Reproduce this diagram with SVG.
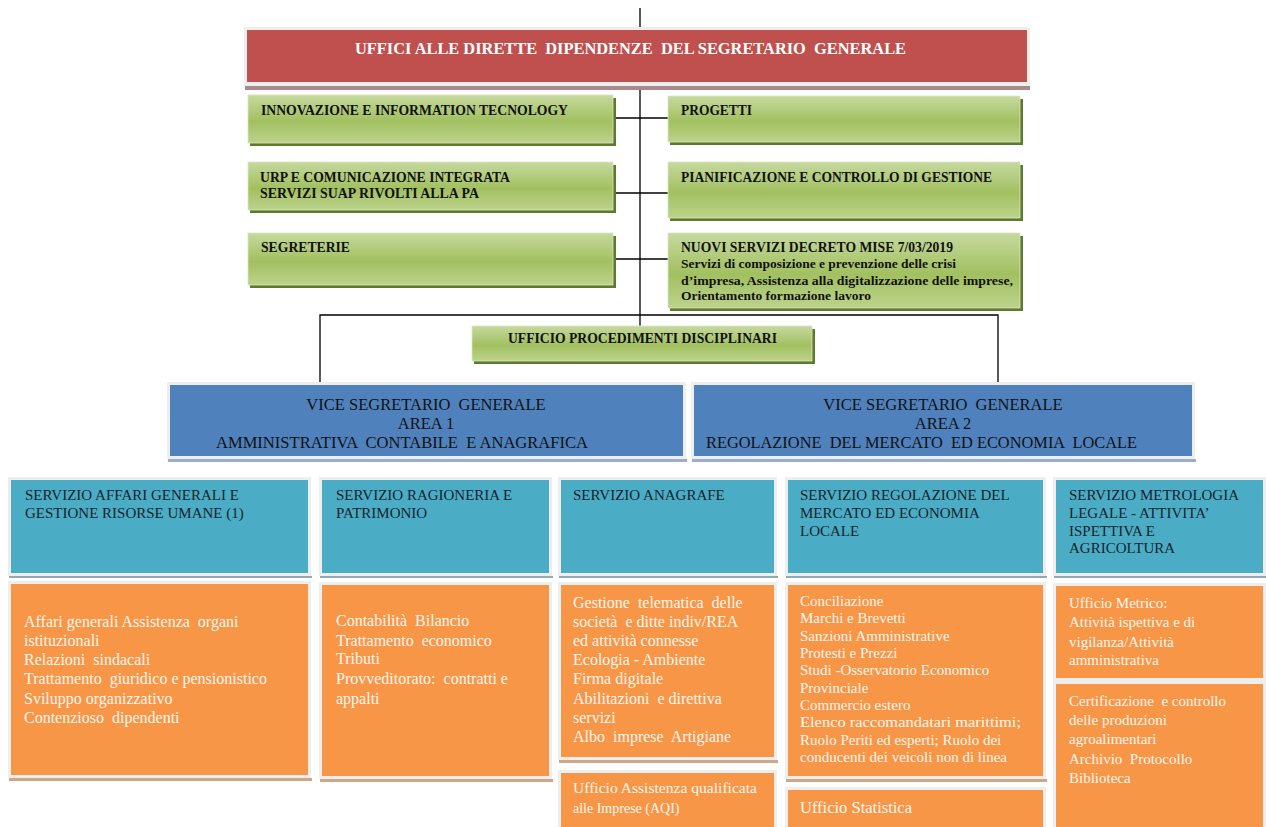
<svg xmlns="http://www.w3.org/2000/svg" width="1266" height="827" viewBox="0 0 1266 827">
<defs>
<linearGradient id="gGreen" x1="0" y1="0" x2="0" y2="1">
<stop offset="0" stop-color="#c6d99e"/>
<stop offset="0.55" stop-color="#a2c060"/>
<stop offset="1" stop-color="#bcd38c"/>
</linearGradient>
<style>
text{white-space:pre}
.conn{stroke:#000;stroke-width:1.3;fill:none}
.frame{fill:#eeeeee}
.green{fill:url(#gGreen);stroke:#d9e6bf;stroke-width:0.8}
.gsh{fill:#5e7a2e}
.tg{font-family:"Liberation Serif","Times New Roman",serif;font-weight:bold;font-size:14px;fill:#111}
.tg2{font-family:"Liberation Serif","Times New Roman",serif;font-weight:bold;font-size:13px;fill:#111}
.tr{font-family:"Liberation Serif","Times New Roman",serif;font-weight:bold;font-size:17.5px;fill:#fff}
.tb{font-family:"Liberation Serif","Times New Roman",serif;font-size:16.5px;fill:#111;text-anchor:middle}
.tt{font-family:"Liberation Serif","Times New Roman",serif;font-size:15px;fill:#16242b}
.to{font-family:"Liberation Serif","Times New Roman",serif;font-size:16px;fill:#fff5ee}
.to2{font-family:"Liberation Serif","Times New Roman",serif;font-size:15px;fill:#fff5ee}
.red{fill:#c0504d}
.blue{fill:#4f81bd}
.teal{fill:#4bacc6}
.orange{fill:#f79646}
.bsh{fill:#9aaecb}
.tsh{fill:#8fa9b5}
.osh{fill:#d0a68a}
</style>
</defs>
<g id="connectors">
<line class="conn" x1="640" y1="8" x2="640" y2="326"/>
<line class="conn" x1="613" y1="118" x2="668" y2="118"/>
<line class="conn" x1="613" y1="193" x2="668" y2="193"/>
<line class="conn" x1="613" y1="259" x2="668" y2="259"/>
<polyline class="conn" points="320,384 320,315 998,315 998,383"/>
</g>
<g id="segretario-generale">
<rect class="frame" x="244" y="27" width="786" height="59"/>
<rect x="245" y="86" width="785" height="4" fill="#a88a8a"/>
<rect class="red" x="247" y="30" width="780" height="52"/>
<text class="tr" x="355" y="54" textLength="551" lengthAdjust="spacingAndGlyphs">UFFICI ALLE DIRETTE  DIPENDENZE  DEL SEGRETARIO  GENERALE</text>
</g>
<g id="innovazione">
<rect class="gsh" x="250" y="98" width="366" height="48"/>
<rect class="green" x="248" y="95" width="365" height="48"/>
<text class="tg" x="261" y="115" textLength="307" lengthAdjust="spacingAndGlyphs">INNOVAZIONE E INFORMATION TECNOLOGY</text>
</g>
<g id="urp">
<rect class="gsh" x="250" y="165" width="366" height="48"/>
<rect class="green" x="248" y="162" width="365" height="48"/>
<text class="tg" x="260" y="182" textLength="250" lengthAdjust="spacingAndGlyphs">URP E COMUNICAZIONE INTEGRATA</text>
<text class="tg" x="260" y="198" textLength="219" lengthAdjust="spacingAndGlyphs">SERVIZI SUAP RIVOLTI ALLA PA</text>
</g>
<g id="segreterie">
<rect class="gsh" x="250" y="236" width="366" height="52"/>
<rect class="green" x="248" y="233" width="365" height="52"/>
<text class="tg" x="261" y="252" textLength="89" lengthAdjust="spacingAndGlyphs">SEGRETERIE</text>
</g>
<g id="progetti">
<rect class="gsh" x="670" y="99" width="353" height="46"/>
<rect class="green" x="668" y="96" width="352" height="46"/>
<text class="tg" x="681" y="115" textLength="71" lengthAdjust="spacingAndGlyphs">PROGETTI</text>
</g>
<g id="pianificazione">
<rect class="gsh" x="670" y="165" width="353" height="56"/>
<rect class="green" x="668" y="162" width="352" height="56"/>
<text class="tg" x="681" y="182" textLength="311" lengthAdjust="spacingAndGlyphs">PIANIFICAZIONE E CONTROLLO DI GESTIONE</text>
</g>
<g id="nuovi-servizi">
<rect class="gsh" x="670" y="236" width="353" height="75"/>
<rect class="green" x="668" y="233" width="352" height="75"/>
<text class="tg" x="681" y="252" textLength="272" lengthAdjust="spacingAndGlyphs">NUOVI SERVIZI DECRETO MISE 7/03/2019</text>
<text class="tg2" x="681" y="268" textLength="275" lengthAdjust="spacingAndGlyphs">Servizi di composizione e prevenzione delle crisi</text>
<text class="tg2" x="681" y="285" textLength="332" lengthAdjust="spacingAndGlyphs">d’impresa, Assistenza alla digitalizzazione delle imprese,</text>
<text class="tg2" x="681" y="300" textLength="190" lengthAdjust="spacingAndGlyphs">Orientamento formazione lavoro</text>
</g>
<g id="procedimenti-disciplinari">
<rect class="gsh" x="474" y="329" width="341" height="35"/>
<rect class="green" x="472" y="326" width="340" height="35"/>
<text class="tg" x="508" y="343" textLength="269" lengthAdjust="spacingAndGlyphs">UFFICIO PROCEDIMENTI DISCIPLINARI</text>
</g>
<g id="area1">
<rect class="frame" x="167" y="382" width="519" height="77"/>
<rect class="bsh" x="168" y="459" width="519" height="3"/>
<rect class="blue" x="170" y="385" width="513" height="71"/>
<text class="tb" x="426" y="410">VICE SEGRETARIO  GENERALE</text>
<text class="tb" x="426" y="429">AREA 1</text>
<text class="tb" x="216" y="448" textLength="372" lengthAdjust="spacingAndGlyphs" style="text-anchor:start">AMMINISTRATIVA  CONTABILE  E ANAGRAFICA</text>
</g>
<g id="area2">
<rect class="frame" x="691" y="382" width="504" height="77"/>
<rect class="bsh" x="692" y="459" width="504" height="3"/>
<rect class="blue" x="694" y="385" width="498" height="71"/>
<text class="tb" x="943" y="410">VICE SEGRETARIO  GENERALE</text>
<text class="tb" x="943" y="429">AREA 2</text>
<text class="tb" x="706" y="448" textLength="431" lengthAdjust="spacingAndGlyphs" style="text-anchor:start">REGOLAZIONE  DEL MERCATO  ED ECONOMIA  LOCALE</text>
</g>
<g id="servizio-affari-generali">
<rect class="frame" x="8" y="477" width="303" height="99"/>
<rect class="tsh" x="9" y="576" width="303" height="2"/>
<rect class="teal" x="11" y="480" width="297" height="93"/>
<text class="tt" x="25" y="500">SERVIZIO AFFARI GENERALI E</text>
<text class="tt" x="25" y="518">GESTIONE RISORSE UMANE (1)</text>
</g>
<g id="affari-generali-uffici">
<rect class="frame" x="8" y="581" width="303" height="197"/>
<rect class="osh" x="9" y="778" width="303" height="3"/>
<rect class="orange" x="11" y="584" width="297" height="191"/>
<text class="to" x="24" y="627">Affari generali Assistenza  organi</text>
<text class="to" x="24" y="646">istituzionali</text>
<text class="to" x="24" y="665">Relazioni  sindacali</text>
<text class="to" x="24" y="684">Trattamento  giuridico e pensionistico</text>
<text class="to" x="24" y="704">Sviluppo organizzativo</text>
<text class="to" x="24" y="723">Contenzioso  dipendenti</text>
</g>
<g id="servizio-ragioneria">
<rect class="frame" x="319" y="477" width="233" height="99"/>
<rect class="tsh" x="320" y="576" width="233" height="2"/>
<rect class="teal" x="322" y="480" width="227" height="93"/>
<text class="tt" x="336" y="500">SERVIZIO RAGIONERIA E</text>
<text class="tt" x="336" y="518">PATRIMONIO</text>
</g>
<g id="ragioneria-uffici">
<rect class="frame" x="319" y="582" width="233" height="197"/>
<rect class="osh" x="320" y="779" width="233" height="3"/>
<rect class="orange" x="322" y="585" width="227" height="191"/>
<text class="to" x="336" y="626">Contabilità  Bilancio</text>
<text class="to" x="336" y="646">Trattamento  economico</text>
<text class="to" x="336" y="664">Tributi</text>
<text class="to" x="336" y="684">Provveditorato:  contratti e</text>
<text class="to" x="336" y="704">appalti</text>
</g>
<g id="servizio-anagrafe">
<rect class="frame" x="558" y="477" width="219" height="99"/>
<rect class="tsh" x="559" y="576" width="219" height="2"/>
<rect class="teal" x="561" y="480" width="213" height="93"/>
<text class="tt" x="573" y="500">SERVIZIO ANAGRAFE</text>
</g>
<g id="anagrafe-uffici">
<rect class="frame" x="558" y="582" width="219" height="178"/>
<rect class="osh" x="559" y="760" width="219" height="3"/>
<rect class="orange" x="561" y="585" width="213" height="172"/>
<text class="to" x="573" y="608">Gestione  telematica  delle</text>
<text class="to" x="573" y="627">società  e ditte indiv/REA</text>
<text class="to" x="573" y="646">ed attività connesse</text>
<text class="to" x="573" y="665">Ecologia - Ambiente</text>
<text class="to" x="573" y="684">Firma digitale</text>
<text class="to" x="573" y="704">Abilitazioni  e direttiva</text>
<text class="to" x="573" y="723">servizi</text>
<text class="to" x="573" y="742">Albo  imprese  Artigiane</text>
</g>
<g id="aqi">
<rect class="frame" x="558" y="770" width="219" height="60"/>
<rect class="orange" x="561" y="773" width="213" height="60"/>
<text class="to2" x="573" y="793" textLength="184" lengthAdjust="spacingAndGlyphs" style="font-size:14px">Ufficio Assistenza qualificata</text>
<text class="to2" x="573" y="813" style="font-size:14px">alle Imprese (AQI)</text>
</g>
<g id="servizio-regolazione">
<rect class="frame" x="785" y="477" width="261" height="99"/>
<rect class="tsh" x="786" y="576" width="261" height="2"/>
<rect class="teal" x="788" y="480" width="255" height="93"/>
<text class="tt" x="800" y="500">SERVIZIO REGOLAZIONE DEL</text>
<text class="tt" x="800" y="518">MERCATO ED ECONOMIA</text>
<text class="tt" x="800" y="536">LOCALE</text>
</g>
<g id="regolazione-uffici">
<rect class="frame" x="785" y="582" width="261" height="197"/>
<rect class="osh" x="786" y="779" width="261" height="3"/>
<rect class="orange" x="788" y="585" width="255" height="191"/>
<text class="to2" x="800" y="606">Conciliazione</text>
<text class="to2" x="800" y="623">Marchi e Brevetti</text>
<text class="to2" x="800" y="641">Sanzioni Amministrative</text>
<text class="to2" x="800" y="658">Protesti e Prezzi</text>
<text class="to2" x="800" y="675">Studi -Osservatorio Economico</text>
<text class="to2" x="800" y="693">Provinciale</text>
<text class="to2" x="800" y="710">Commercio estero</text>
<text class="to2" x="800" y="727" textLength="221" lengthAdjust="spacingAndGlyphs">Elenco raccomandatari marittimi;</text>
<text class="to2" x="800" y="745">Ruolo Periti ed esperti; Ruolo dei</text>
<text class="to2" x="800" y="762">conducenti dei veicoli non di linea</text>
</g>
<g id="statistica">
<rect class="frame" x="785" y="787" width="261" height="45"/>
<rect class="orange" x="788" y="790" width="255" height="45"/>
<text class="to" x="800" y="813" style="font-size:16.5px">Ufficio Statistica</text>
</g>
<g id="servizio-metrologia">
<rect class="frame" x="1053" y="477" width="213" height="99"/>
<rect class="tsh" x="1054" y="576" width="212" height="2"/>
<rect class="teal" x="1056" y="480" width="207" height="93"/>
<text class="tt" x="1069" y="500">SERVIZIO METROLOGIA</text>
<text class="tt" x="1069" y="518">LEGALE - ATTIVITA’</text>
<text class="tt" x="1069" y="536">ISPETTIVA E</text>
<text class="tt" x="1069" y="553">AGRICOLTURA</text>
</g>
<g id="ufficio-metrico">
<rect class="frame" x="1053" y="583" width="213" height="98"/>
<rect class="orange" x="1056" y="586" width="207" height="92"/>
<text class="to2" x="1069" y="608">Ufficio Metrico:</text>
<text class="to2" x="1069" y="627">Attività ispettiva e di</text>
<text class="to2" x="1069" y="647">vigilanza/Attività</text>
<text class="to2" x="1069" y="665">amministrativa</text>
</g>
<g id="certificazione">
<rect class="frame" x="1053" y="681" width="213" height="150"/>
<rect class="orange" x="1056" y="684" width="207" height="150"/>
<text class="to2" x="1069" y="706">Certificazione  e controllo</text>
<text class="to2" x="1069" y="725">delle produzioni</text>
<text class="to2" x="1069" y="744">agroalimentari</text>
<text class="to2" x="1069" y="764">Archivio  Protocollo</text>
<text class="to2" x="1069" y="783">Biblioteca</text>
</g>
</svg>
